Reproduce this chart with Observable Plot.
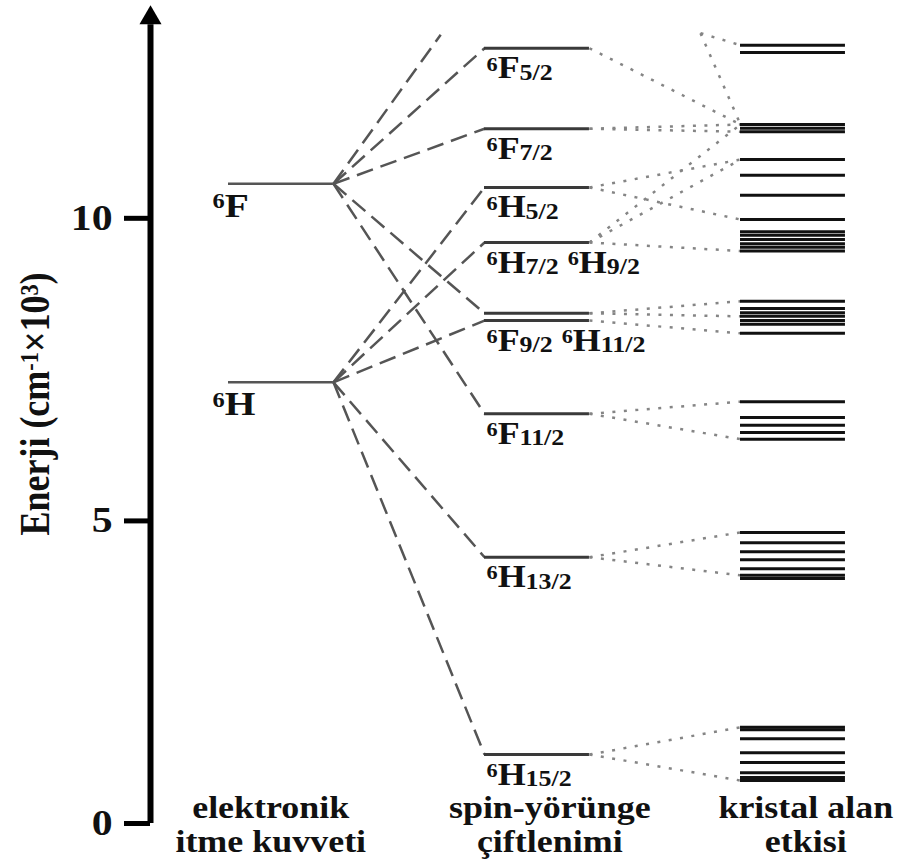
<!DOCTYPE html>
<html>
<head>
<meta charset="utf-8">
<script src="https://cdn.jsdelivr.net/npm/d3@7"></script>
<script src="https://cdn.jsdelivr.net/npm/@observablehq/plot@0.6"></script>
<style>
  html, body { margin: 0; padding: 0; background: #fff; }
</style>
</head>
<body>
<div id="chart"></div>
<script>
// ---------------- data ----------------
const yTicks = [0, 5, 10];
const axisTitle = "Enerji (cm-1×103)";

// electronic (Coulomb) terms, energies in 10^3 cm^-1
const electronicTerms = ["6F", "6H"];
const electronicEnergy = [10.57, 7.29];

// spin-orbit levels
const soTerms  = ["6F5/2", "6F7/2", "6H5/2", "6H7/2", "6F9/2", "6H11/2", "6F11/2", "6H13/2", "6H15/2"];
const soEnergy = [12.81, 11.48, 10.51, 9.60, 8.43, 8.31, 6.77, 4.40, 1.14];
const soParent = ["6F", "6F", "6H", "6H", "6F", "6H", "6F", "6H", "6H"];
const soLabels = ["6F5/2", "6F7/2", "6H5/2", "6H7/2 6H9/2", "", "6F9/2 6H11/2", "6F11/2", "6H13/2", "6H15/2"];

// a higher 6F level whose connector runs off the top of the chart
const offChartParent = "6F";
const offChartEnergy = 14.04;

// crystal-field (Stark) levels
const cfEnergy = [
  12.86, 12.74,
  11.55, 11.49, 11.43,
  10.97, 10.71, 10.38, 9.98,
  9.78, 9.72, 9.65, 9.58, 9.52, 9.46,
  8.63, 8.51, 8.44, 8.38, 8.31, 8.25, 8.10,
  6.97, 6.71, 6.58, 6.46, 6.35,
  4.81, 4.64, 4.49, 4.36, 4.21, 4.10, 4.05,
  1.59, 1.55, 1.40, 1.17, 1.01, 0.84, 0.76, 0.71
];

// dotted fans: spin-orbit level energy -> crystal-field level energy
const fanFrom = [12.81, 11.48, 11.48, 10.51, 10.51, 9.60, 9.60, 9.60, 8.43, 8.43, 8.31, 6.77, 6.77, 4.40, 4.40, 1.14, 1.14];
const fanTo   = [11.55, 11.55, 11.43, 10.97, 9.98, 11.55, 10.97, 9.46, 8.63, 8.38, 8.10, 6.97, 6.35, 4.81, 4.10, 1.59, 0.71];
// short dotted fan near the top
const strayFromEnergy = 13.06;
const strayTo = [12.86, 11.55];

const columnTitles = ["elektronik\nitme kuvveti", "spin-yörünge\nçiftlenimi", "kristal alan\netkisi"];

// ---------------- layout ----------------
const NS = "http://www.w3.org/2000/svg";
const STRETCH = 1.16;
const X0 = 228, COL = 256, AXIS_PX = 150, WIDTH = 904, HEIGHT = 865;
const W = 0.41;                 // width of a level line (in column units)
const xDomain = [(AXIS_PX - X0) / COL, (WIDTH - X0) / COL];
const offChartDrawn = 0.71;     // drawn fraction of the off-chart connector
const strayStartU = (700 - X0) / COL;
const titleShift = [-0.04, 0.05, 0.05];
const ELEC_FS = 34, SO_FS = 31;

// ---------------- tables ----------------
const elecRows = electronicTerms.map((t, i) => ({term: t, E: electronicEnergy[i]}));
const elecE = Object.fromEntries(elecRows.map(d => [d.term, d.E]));
const soRows = soTerms.map((t, i) => ({term: t, E: soEnergy[i], parent: soParent[i], label: soLabels[i]}));

const connectors = soRows.map(d => ({x1: W, y1: elecE[d.parent], x2: 1, y2: d.E}));
{
  const e0 = elecE[offChartParent];
  connectors.push({x1: W, y1: e0, x2: W + (1 - W) * offChartDrawn, y2: e0 + (offChartEnergy - e0) * offChartDrawn});
}
const fans = fanFrom.map((e, i) => ({x1: 1 + W, y1: e, x2: 2, y2: fanTo[i]}))
  .concat(strayTo.map(e => ({x1: strayStartU, y1: strayFromEnergy, x2: 2, y2: e})));

const arrowE = 13.31;

const svg = Plot.plot({
  width: WIDTH,
  height: HEIGHT,
  marginLeft: AXIS_PX,
  marginRight: 0,
  marginTop: 6,
  marginBottom: 42,
  x: {domain: xDomain, axis: null},
  y: {domain: [0, 13.5]},
  style: {fontFamily: "'Liberation Serif','Times New Roman',serif", fontWeight: "bold", background: "#fff", color: "#111"},
  marks: [
    // energy axis
    Plot.ruleX([xDomain[0]], {x: d => d, y1: () => 0, y2: () => 13.2, stroke: "#000", strokeWidth: 6}),
    Plot.dot([arrowE], {x: () => xDomain[0], y: d => d, symbol: "triangle", r: 8.2, fill: "#000"}),
    Plot.axisY(yTicks, {anchor: "left", tickSize: 26, tickPadding: 12, strokeWidth: 5, stroke: "#000", fontSize: 36, label: null, tickFormat: d => `${d}`}),
    Plot.text([axisTitle], {frameAnchor: "left", text: d => d, rotate: -90, dx: -115, dy: -11, fontSize: 36, textAnchor: "middle", lineAnchor: "middle"}),

    // connectors
    Plot.link(connectors, {x1: "x1", y1: "y1", x2: "x2", y2: "y2", stroke: "#555", strokeWidth: 2.5, strokeDasharray: "17,8"}),
    Plot.link(fans, {x1: "x1", y1: "y1", x2: "x2", y2: "y2", stroke: "#858585", strokeWidth: 2.5, strokeDasharray: "3,8.5"}),

    // levels
    Plot.ruleY(elecRows, {y: "E", x1: () => 0, x2: () => W, stroke: "#555", strokeWidth: 2.5}),
    Plot.ruleY(soRows, {y: "E", x1: () => 1, x2: () => 1 + W, stroke: "#3a3a3a", strokeWidth: 3}),
    Plot.ruleY(cfEnergy, {y: d => d, x1: () => 2, x2: () => 2 + W, stroke: "#111", strokeWidth: 3}),

    // labels
    Plot.text(elecRows, {x: () => 0, y: "E", text: "term", textAnchor: "start", lineAnchor: "bottom", dx: -16, dy: 33, fontSize: ELEC_FS}),
    Plot.text(soRows.filter(d => d.label), {x: () => 1, y: "E", text: "label", textAnchor: "start", lineAnchor: "bottom", dx: 2, dy: 30, fontSize: SO_FS}),
    Plot.text(columnTitles, {x: (d, i) => i + W / 2 + titleShift[i], y: () => 0, text: d => d, textAnchor: "middle", lineAnchor: "bottom", dy: 28, fontSize: 31, lineHeight: 1.07})
  ]
});

// ---------- rich text (superscripts / subscripts) ----------
function setRich(textEl, parts, fs) {
  while (textEl.firstChild) textEl.removeChild(textEl.firstChild);
  let cur = 0;
  for (const [str, kind] of parts) {
    const ts = document.createElementNS(NS, "tspan");
    let size = fs, off = 0;
    if (kind === "sup") { size = fs * 0.62; off = -fs * 0.25; }
    else if (kind === "sub") { size = fs * 0.72; off = fs * 0.05; }
    ts.setAttribute("font-size", size);
    if (off !== cur) ts.setAttribute("dy", off - cur);
    cur = off;
    ts.textContent = str;
    textEl.appendChild(ts);
  }
}
function termParts(s) {
  const parts = [];
  s.split(" ").forEach((tok, i) => {
    const m = tok.match(/^(\d)([A-Z])(.*)$/);
    if (i) parts.push([" ", "norm"]);
    parts.push([m[1], "sup"], [m[2], "norm"]);
    if (m[3]) parts.push([m[3], "sub"]);
  });
  return parts;
}
svg.querySelectorAll("text").forEach(t => {
  const s = t.textContent;
  if (/^\d[A-Z]/.test(s)) setRich(t, termParts(s), electronicTerms.includes(s) ? ELEC_FS : SO_FS);
  else if (s === axisTitle) setRich(t, [["Enerji (cm", "norm"], ["-1", "sup"], ["×10", "norm"], ["3", "sup"], [")", "norm"]], 36);
});
// the reference is horizontally stretched: widen glyphs accordingly
svg.querySelectorAll("text").forEach(t => {
  const tr = t.getAttribute("transform") || "";
  t.setAttribute("transform", tr + (tr.includes("rotate") ? ` scale(1,${STRETCH})` : ` scale(${STRETCH},1)`));
});

document.getElementById("chart").appendChild(svg);
</script>
</body>
</html>
